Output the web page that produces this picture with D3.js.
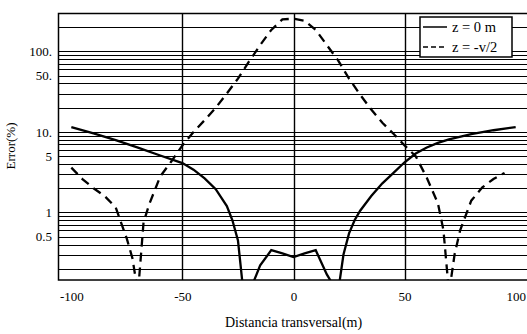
<!DOCTYPE html>
<html>
<head>
<meta charset="utf-8">
<script src="https://cdn.jsdelivr.net/npm/d3@7"></script>
<style>
  body { margin: 0; background: white; }
  text { font-family: "Liberation Serif", "DejaVu Serif", serif; fill: #000; }
</style>
</head>
<body>
<div id="chart"></div>
<script>

// series z = 0 m
var xSolid = [-100, -90, -80, -70, -60, -50, -45, -40, -35, -30, -27.5, -25, -22.5, -20,
              -15, -10, -5, 0, 5, 10, 15, 20, 22.5, 25, 27.5, 30, 35, 40, 45, 50,
              55, 60, 65, 70, 80, 90, 100];
var ySolid = [11.5, 9.6, 7.9, 6.4, 5.1, 4.1, 3.4, 2.65, 1.95, 1.2, 0.8, 0.45, 0.1, 0.1,
              0.22, 0.34, 0.31, 0.28, 0.31, 0.34, 0.17, 0.1, 0.3, 0.55, 0.8, 1.05, 1.6, 2.3, 3.1, 4.2,
              5.4, 6.4, 7.3, 8.1, 9.4, 10.5, 11.5];

// series z = -v/2
var xDash = [-100, -95, -90, -85, -80, -75, -72.5, -70, -67.5, -65, -60, -55, -50, -45, -40,
             -35, -30, -25, -20, -15, -10, -5, 0, 5, 10, 15, 20, 25, 30, 35, 40, 45, 50,
             55, 60, 65, 67.5, 70, 72.5, 75, 80, 85, 90, 95];
var yDash = [3.6, 2.6, 2.0, 1.6, 1.15, 0.47, 0.27, 0.1, 0.75, 1.25, 2.8, 4.3, 6.8, 10, 14,
             20, 30, 46, 75, 120, 185, 250, 255, 240, 185, 120, 78, 46, 29, 19, 13, 9.5, 6.8,
             5, 2.7, 1.3, 0.6, 0.1, 0.3, 0.6, 1.4, 2.05, 2.6, 3.1];

var xTicks = [-100, -50, 0, 50, 100];
var xGrid = [-50, 0, 50];
var yTicks = [0.5, 1, 5, 10, 50, 100];
var yTickLabels = ["0.5", "1", "5", "10.", "50.", "100."];
var legendLabels = ["z = 0 m", "z = -v/2"];

var margin = {top: 13, right: -2, bottom: 54, left: 58},
    width = 527 - margin.left - margin.right,
    height = 334 - margin.top - margin.bottom;

var svg = d3.select("#chart").append("svg")
    .attr("width", 527)
    .attr("height", 334)
    .style("background-color", "white")
  .append("g")
    .attr("transform", "translate(" + margin.left + "," + margin.top + ")");

var x = d3.scaleLinear().domain([-106, 106]).range([0, width]);
var y = d3.scaleLog().domain([0.145, 300]).range([height, 0]);

svg.append("clipPath").attr("id", "clip")
  .append("rect").attr("width", width).attr("height", height);

// horizontal log grid (1..9 per decade)
svg.append("g")
  .selectAll("line")
  .data(y.ticks().filter(function(d) { return d > 0.145 && d < 300; }))
  .enter().append("line")
    .attr("x1", 0).attr("x2", width)
    .attr("y1", function(d) { return Math.round(y(d)) + 0.5; })
    .attr("y2", function(d) { return Math.round(y(d)) + 0.5; })
    .attr("stroke", "#000")
    .attr("stroke-width", 1.2);

// vertical grid
svg.append("g")
  .selectAll("line")
  .data(xGrid)
  .enter().append("line")
    .attr("x1", function(d) { return Math.round(x(d)) + 0.5; })
    .attr("x2", function(d) { return Math.round(x(d)) + 0.5; })
    .attr("y1", 0).attr("y2", height)
    .attr("stroke", "#000")
    .attr("stroke-width", 1.4);

// frame
svg.append("rect")
  .attr("x", 0.5).attr("y", 0.5)
  .attr("width", width).attr("height", height - 0.5)
  .attr("fill", "none")
  .attr("stroke", "#000")
  .attr("stroke-width", 1.5);

// axes
var xAxis = svg.append("g")
  .attr("transform", "translate(0," + height + ")")
  .call(d3.axisBottom(x).tickValues(xTicks).tickSize(0).tickPadding(12)
        .tickFormat(function(d) { return d; }));
xAxis.select(".domain").remove();
xAxis.selectAll("text").style("font-size", "13px").style("font-family", "Liberation Serif");

var yAxis = svg.append("g")
  .call(d3.axisLeft(y).tickValues(yTicks).tickSize(0).tickPadding(6)
        .tickFormat(function(d, i) { return yTickLabels[i]; }));
yAxis.select(".domain").remove();
yAxis.selectAll("text").style("font-size", "13px").style("font-family", "Liberation Serif");

// curves
var line = d3.line()
  .x(function(d) { return x(d[0]); })
  .y(function(d) { return y(d[1]); });

var plot = svg.append("g").attr("clip-path", "url(#clip)");

plot.append("path")
  .datum(d3.zip(xSolid, ySolid))
  .attr("d", line)
  .attr("fill", "none")
  .attr("stroke", "#000")
  .attr("stroke-width", 2.3);

plot.append("path")
  .datum(d3.zip(xDash, yDash))
  .attr("d", line)
  .attr("fill", "none")
  .attr("stroke", "#000")
  .attr("stroke-width", 2.3)
  .attr("stroke-dasharray", "9,6");

// axis titles
svg.append("text")
  .attr("x", x(0))
  .attr("y", height + 47)
  .attr("text-anchor", "middle")
  .style("font-size", "14px")
  .text("Distancia transversal(m)");

svg.append("text")
  .attr("transform", "translate(" + (-43) + "," + 133 + ") rotate(-90)")
  .attr("text-anchor", "middle")
  .style("font-size", "13px")
  .text("Error(%)");

// legend
var legend = svg.append("g").attr("transform", "translate(" + (420 - margin.left) + "," + (17 - margin.top) + ")");
legend.append("rect")
  .attr("width", 92).attr("height", 40)
  .attr("fill", "white")
  .attr("stroke", "#000")
  .attr("stroke-width", 1.5);

legend.selectAll(".lg")
  .data(legendLabels)
  .enter().append("line")
    .attr("x1", 3).attr("x2", 27)
    .attr("y1", function(d, i) { return 10 + i * 20; })
    .attr("y2", function(d, i) { return 10 + i * 20; })
    .attr("stroke", "#000")
    .attr("stroke-width", 1.5)
    .attr("stroke-dasharray", function(d, i) { return i == 1 ? "5,3" : null; });

legend.selectAll("text")
  .data(legendLabels)
  .enter().append("text")
    .attr("x", 32)
    .attr("y", function(d, i) { return 15 + i * 20; })
    .style("font-size", "14.5px")
    .text(function(d) { return d; });

</script>
</body>
</html>
